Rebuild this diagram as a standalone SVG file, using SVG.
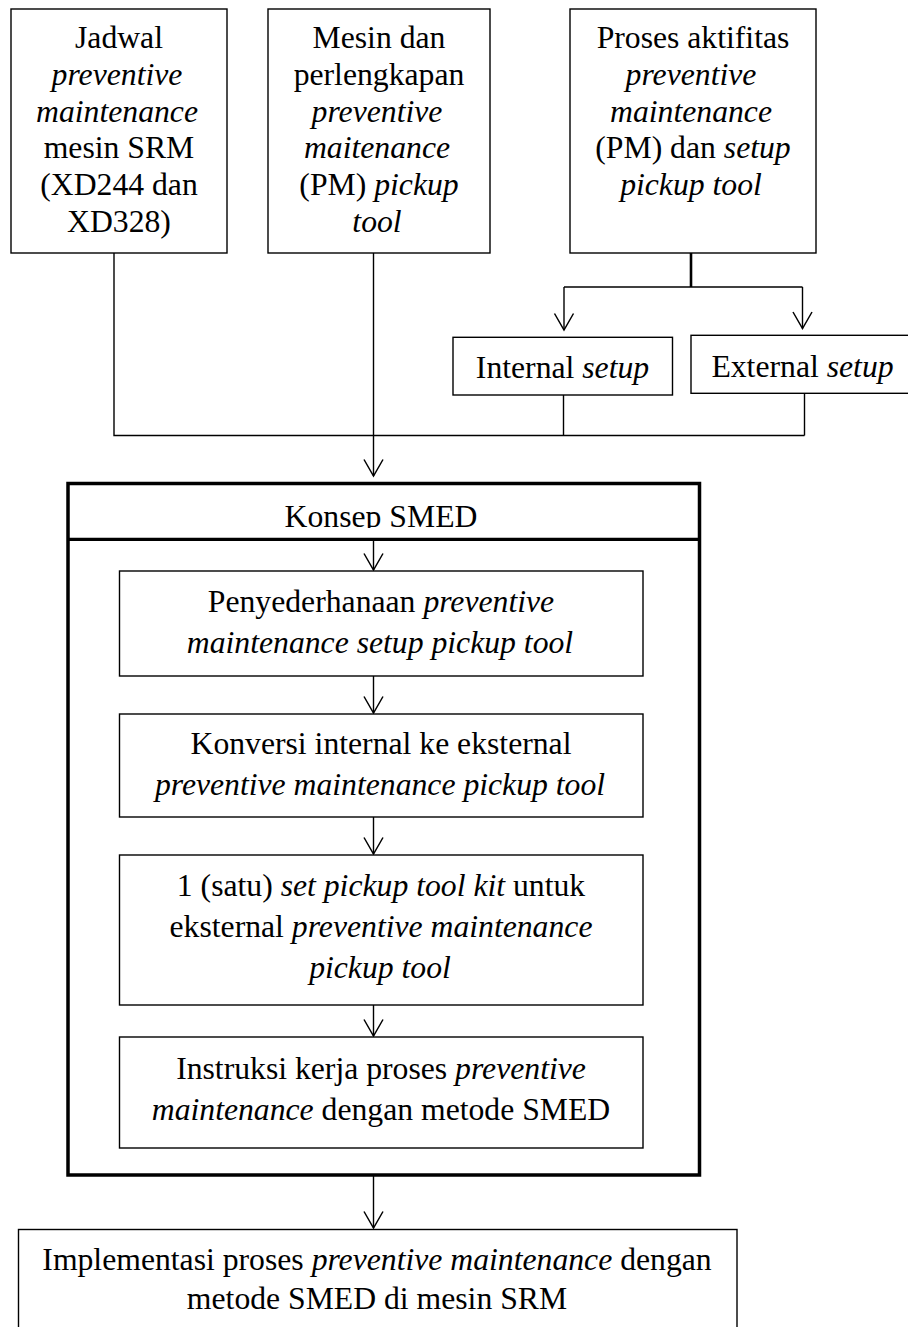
<svg xmlns="http://www.w3.org/2000/svg" width="908" height="1327" viewBox="0 0 908 1327">
<style>
  text { font-family: "Liberation Serif", "Times New Roman", serif; font-size: 31.7px; fill: #000; text-anchor: middle; }
  .i { font-style: italic; }
  .box { fill: #fff; stroke: #000; stroke-width: 1.4; }
  .con { fill: none; stroke: #000; stroke-width: 1.4; }
  .thick { stroke-width: 2.6; }
  .frame { fill: none; stroke: #000; stroke-width: 3.5; }
</style>
<defs>
  <marker id="arr" markerUnits="userSpaceOnUse" markerWidth="20" markerHeight="22" orient="auto" refX="0" refY="0" overflow="visible">
    <path d="M-16.5,-9.5 L0,0 L-16.5,9.5" fill="none" stroke="#000" stroke-width="1.5"/>
  </marker>
  <clipPath id="hdrclip"><rect x="68" y="485" width="631" height="43"/></clipPath>
</defs>
<rect width="908" height="1327" fill="#fff"/>

<g id="connectors">
  <path class="con" d="M114,253 V435.5 H804.5"/>
  <path class="con" d="M373.5,253 V476" marker-end="url(#arr)"/>
  <path class="con thick" d="M691,253 V287"/>
  <path class="con" d="M564,287 H802.5"/>
  <path class="con" d="M564,287 V330" marker-end="url(#arr)"/>
  <path class="con" d="M802.5,287 V328.5" marker-end="url(#arr)"/>
  <path class="con" d="M563.5,395 V435.5"/>
  <path class="con" d="M804.5,393 V435.5"/>
  <path class="con" d="M373.5,539.5 V570" marker-end="url(#arr)"/>
  <path class="con" d="M373.5,676 V713" marker-end="url(#arr)"/>
  <path class="con" d="M373.5,817 V854" marker-end="url(#arr)"/>
  <path class="con" d="M373.5,1005 V1036" marker-end="url(#arr)"/>
  <path class="con" d="M373.5,1176 V1228" marker-end="url(#arr)"/>
</g>

<g id="jadwal">
  <rect class="box" x="11" y="9" width="216" height="244"/>
  <text x="119" y="48.3">Jadwal</text>
  <text x="117" y="85" class="i">preventive</text>
  <text x="117" y="121.7" class="i">maintenance</text>
  <text x="119" y="158.4">mesin SRM</text>
  <text x="119" y="195">(XD244 dan</text>
  <text x="119" y="231.7">XD328)</text>
</g>

<g id="mesin">
  <rect class="box" x="268" y="9" width="222" height="244"/>
  <text x="379" y="48.3">Mesin dan</text>
  <text x="379" y="85">perlengkapan</text>
  <text x="377" y="121.7" class="i">preventive</text>
  <text x="377" y="158.4" class="i">maitenance</text>
  <text x="379" y="195">(PM) <tspan class="i">pickup</tspan></text>
  <text x="377" y="231.7" class="i">tool</text>
</g>

<g id="proses">
  <rect class="box" x="570" y="9" width="246" height="244"/>
  <text x="693" y="48.3">Proses aktifitas</text>
  <text x="691" y="85" class="i">preventive</text>
  <text x="691" y="121.7" class="i">maintenance</text>
  <text x="693" y="158.4">(PM) dan <tspan class="i">setup</tspan></text>
  <text x="691" y="195" class="i">pickup tool</text>
</g>

<g id="internal">
  <rect class="box" x="453" y="337.3" width="219.5" height="57.7"/>
  <text x="562.5" y="378">Internal <tspan class="i">setup</tspan></text>
</g>

<g id="external">
  <rect class="box" x="691" y="335.3" width="220" height="58"/>
  <text x="802.5" y="376.7">External <tspan class="i">setup</tspan></text>
</g>

<g id="smed">
  <rect class="frame" x="68" y="483.5" width="631.5" height="691.5"/>
  <line x1="68" y1="539.3" x2="699.5" y2="539.3" stroke="#000" stroke-width="3.2"/>
  <text x="381" y="526.7" clip-path="url(#hdrclip)">Konsep SMED</text>
</g>

<g id="penyederhanaan">
  <rect class="box" x="119.5" y="571" width="523.5" height="105"/>
  <text x="381" y="611.5">Penyederhanaan <tspan class="i">preventive</tspan></text>
  <text x="380" y="652.5" class="i">maintenance setup pickup tool</text>
</g>

<g id="konversi">
  <rect class="box" x="119.5" y="714" width="523.5" height="103"/>
  <text x="381" y="753.5">Konversi internal ke eksternal</text>
  <text x="380" y="794.5" class="i">preventive maintenance pickup tool</text>
</g>

<g id="kit">
  <rect class="box" x="119.5" y="855" width="523.5" height="150"/>
  <text x="381" y="896">1 (satu) <tspan class="i">set pickup tool kit</tspan> untuk</text>
  <text x="381" y="937">eksternal <tspan class="i">preventive maintenance</tspan></text>
  <text x="380" y="978" class="i">pickup tool</text>
</g>

<g id="instruksi">
  <rect class="box" x="119.5" y="1037" width="523.5" height="111"/>
  <text x="381" y="1079">Instruksi kerja proses <tspan class="i">preventive</tspan></text>
  <text x="381" y="1120"><tspan class="i">maintenance</tspan> dengan metode SMED</text>
</g>

<g id="implementasi">
  <rect class="box" x="18.5" y="1229.5" width="718.5" height="110"/>
  <text x="377" y="1269.5">Implementasi proses <tspan class="i">preventive maintenance</tspan> dengan</text>
  <text x="377" y="1309">metode SMED di mesin SRM</text>
</g>
</svg>
